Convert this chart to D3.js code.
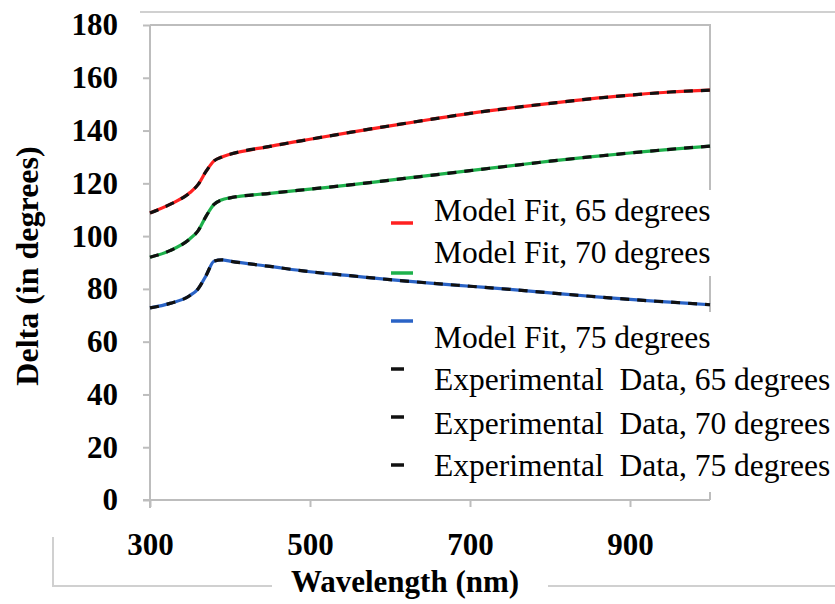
<!DOCTYPE html>
<html>
<head>
<meta charset="utf-8">
<script src="https://cdn.jsdelivr.net/npm/d3@7"></script>
</head>
<body style="margin:0">
<script>
// wavelengths (nm)
const wavelengths = [300, 325, 350, 360, 370, 380, 390, 400, 450, 500, 550, 600, 650, 700, 750, 800, 850, 900, 950, 1000];

// model fits
const fit65 = [108.8, 112, 116.5, 119.5, 124.5, 128.5, 130, 131, 134, 136.7, 139.3, 141.8, 144.2, 146.5, 148.5, 150.3, 152, 153.4, 154.6, 155.3];
const fit70 = [92, 94.5, 99, 102, 107.5, 112, 113.8, 114.5, 116.2, 117.8, 119.4, 121.2, 123, 124.8, 126.6, 128.4, 130, 131.5, 132.9, 134.1];
const fit75 = [72.8, 74.5, 77.5, 80, 85, 90.5, 91, 90.5, 88.5, 86.5, 85, 83.5, 82.2, 81, 79.8, 78.5, 77.2, 76, 75, 74];

// experimental data (lies on top of the fits)
const exp65 = [108.8, 112, 116.5, 119.5, 124.5, 128.5, 130, 131, 134, 136.7, 139.3, 141.8, 144.2, 146.5, 148.5, 150.3, 152, 153.4, 154.6, 155.3];
const exp70 = [92, 94.5, 99, 102, 107.5, 112, 113.8, 114.5, 116.2, 117.8, 119.4, 121.2, 123, 124.8, 126.6, 128.4, 130, 131.5, 132.9, 134.1];
const exp75 = [72.8, 74.5, 77.5, 80, 85, 90.5, 91, 90.5, 88.5, 86.5, 85, 83.5, 82.2, 81, 79.8, 78.5, 77.2, 76, 75, 74];

const xTicks = [300, 500, 700, 900];
const yTicks = [0, 20, 40, 60, 80, 100, 120, 140, 160, 180];

const fitNames = ["Model Fit, 65 degrees", "Model Fit, 70 degrees", "Model Fit, 75 degrees"];
const expNames = ["Experimental  Data, 65 degrees", "Experimental  Data, 70 degrees", "Experimental  Data, 75 degrees"];
const fitColors = ["#ff2020", "#1db14b", "#2a63c6"];

const W = 835, H = 604;
const margin = { top: 25, right: 125, bottom: 104, left: 150 };
const axisGrey = "#bdbdbd";

const svg = d3.select("body").append("svg")
    .attr("width", W)
    .attr("height", H)
    .style("display", "block")
    .style("font-family", '"Liberation Serif"');

const x = d3.scaleLinear()
    .domain([300, 1000])
    .range([margin.left, W - margin.right]);

const y = d3.scaleLinear()
    .domain([0, 180])
    .range([H - margin.bottom, margin.top]);

// outer chart-area border bits
svg.append("line").attr("x1", 140).attr("x2", W).attr("y1", 12).attr("y2", 12)
    .attr("stroke", "#d0d0d0").attr("stroke-width", 2);
svg.append("path")
    .attr("d", "M53,537V586H272M548,586H" + W)
    .attr("fill", "none").attr("stroke", "#d0d0d0").attr("stroke-width", 2);

// plot frame (top and right)
svg.append("path")
    .attr("d", `M${x(300)},${y(180)}H${x(1000)}V${y(0)}`)
    .attr("fill", "none").attr("stroke", axisGrey).attr("stroke-width", 2);

// axes
const yAxis = svg.append("g")
    .attr("transform", `translate(${x(300)},0)`)
    .call(d3.axisLeft(y).tickValues(yTicks).tickSize(7).tickFormat(d3.format("d")));
const xAxis = svg.append("g")
    .attr("transform", `translate(0,${y(0)})`)
    .call(d3.axisBottom(x).tickValues(xTicks).tickSize(7).tickFormat(d3.format("d")));

[xAxis, yAxis].forEach(g => {
    g.attr("font-family", null).attr("font-size", null);
    g.select(".domain").attr("stroke", axisGrey).attr("stroke-width", 2);
    g.selectAll(".tick line").attr("stroke", axisGrey).attr("stroke-width", 2);
    g.selectAll("text")
        .attr("fill", "#000")
        .style("font-family", '"Liberation Serif"')
        .style("font-size", "31px")
        .style("font-weight", "bold");
});
xAxis.select(".domain").attr("d", `M${x(300) - 7},0H${x(1000)}`);
yAxis.select(".domain").attr("d", `M0,${y(180)}V${y(0) + 8}`);
yAxis.selectAll("text").attr("x", -32).attr("dy", "0.32em");
xAxis.selectAll("text").attr("y", 33).attr("dy", "0.71em");

// axis titles
svg.append("text")
    .attr("x", 405)
    .attr("y", 592)
    .attr("text-anchor", "middle")
    .style("font-family", '"Liberation Serif"')
    .style("font-size", "31px")
    .style("font-weight", "bold")
    .text("Wavelength (nm)");

svg.append("text")
    .attr("transform", "translate(38,266) rotate(-90)")
    .attr("text-anchor", "middle")
    .style("font-family", '"Liberation Serif"')
    .style("font-size", "32px")
    .style("font-weight", "bold")
    .text("Delta (in degrees)");

// curves
const line = d3.line()
    .x(d => x(d[0]))
    .y(d => y(d[1]))
    .curve(d3.curveMonotoneX);

const fits = [fit65, fit70, fit75];
const exps = [exp65, exp70, exp75];

fits.forEach((vals, i) => {
    svg.append("path")
        .datum(wavelengths.map((w, j) => [w, vals[j]]))
        .attr("d", line)
        .attr("fill", "none")
        .attr("stroke", fitColors[i])
        .attr("stroke-width", 3.2);
});
exps.forEach(vals => {
    svg.append("path")
        .datum(wavelengths.map((w, j) => [w, vals[j]]))
        .attr("d", line)
        .attr("fill", "none")
        .attr("stroke", "#111")
        .attr("stroke-width", 3.2)
        .attr("stroke-dasharray", "9,8");
});

// legend (white boxes over the plot)
svg.append("rect").attr("x", 380).attr("y", 190).attr("width", 340).attr("height", 86).attr("fill", "#fff");
svg.append("rect").attr("x", 380).attr("y", 312).attr("width", 455).attr("height", 180).attr("fill", "#fff");

const legendItems = [
    { name: fitNames[0], color: fitColors[0], sy: 223, ty: 210, dash: false },
    { name: fitNames[1], color: fitColors[1], sy: 273, ty: 252, dash: false },
    { name: fitNames[2], color: fitColors[2], sy: 321, ty: 337, dash: false },
    { name: expNames[0], color: "#111", sy: 369, ty: 379, dash: true },
    { name: expNames[1], color: "#111", sy: 417, ty: 423, dash: true },
    { name: expNames[2], color: "#111", sy: 465, ty: 465, dash: true }
];

const lg = svg.append("g").selectAll("g").data(legendItems).enter().append("g");
lg.append("line")
    .attr("x1", 391)
    .attr("x2", d => d.dash ? 404 : 413)
    .attr("y1", d => d.sy)
    .attr("y2", d => d.sy)
    .attr("stroke", d => d.color)
    .attr("stroke-width", 3.5);
lg.append("text")
    .attr("x", 434)
    .attr("y", d => d.ty)
    .attr("dy", "0.35em")
    .style("font-family", '"Liberation Serif"')
    .style("font-size", "31.5px")
    .attr("xml:space", "preserve")
    .text(d => d.name);
</script>
</body>
</html>
